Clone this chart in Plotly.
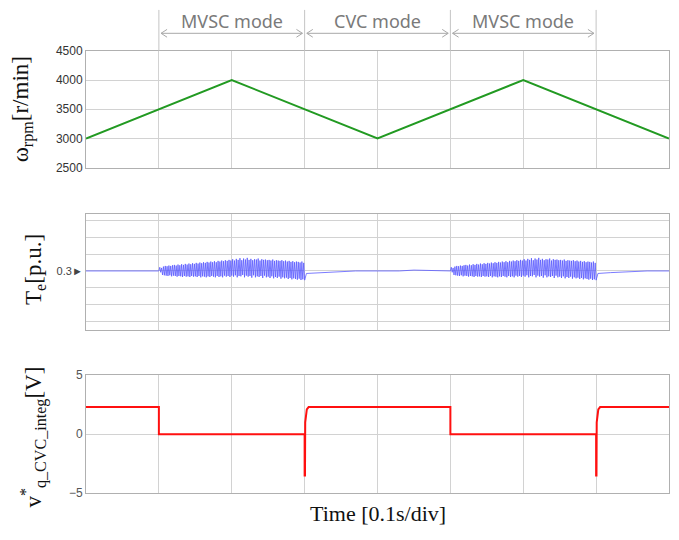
import numpy as np
import plotly.graph_objects as go

# ---------------- data ----------------
# speed (r/min)
SPEED_T = [0.0, 0.2, 0.4, 0.6, 0.8]
SPEED_V = [3000, 4000, 3000, 4000, 3000]

# torque (p.u.) - MVSC window oscillation samples
TE_MVSC = [
    0.300, 0.322, 0.292, 0.318, 0.276, 0.326, 0.274, 0.330, 0.272, 0.328, 0.270, 0.332, 0.274, 0.330, 0.268, 0.334, 0.272, 0.336, 0.270, 0.332,
    0.266, 0.338, 0.270, 0.334, 0.268, 0.340, 0.264, 0.336, 0.270, 0.342, 0.266, 0.338, 0.268, 0.344, 0.264, 0.340, 0.270, 0.346, 0.266, 0.342,
    0.268, 0.348, 0.264, 0.344, 0.270, 0.350, 0.262, 0.346, 0.268, 0.352, 0.266, 0.348, 0.262, 0.354, 0.268, 0.350, 0.264, 0.356, 0.270, 0.352,
    0.266, 0.358, 0.262, 0.352, 0.270, 0.360, 0.264, 0.356, 0.268, 0.362, 0.262, 0.358, 0.272, 0.364, 0.266, 0.360, 0.270, 0.366, 0.264, 0.362,
    0.272, 0.370, 0.266, 0.362, 0.274, 0.372, 0.262, 0.366, 0.270, 0.376, 0.268, 0.364, 0.276, 0.374, 0.262, 0.368, 0.272, 0.378, 0.266, 0.366,
    0.270, 0.372, 0.260, 0.364, 0.274, 0.370, 0.262, 0.368, 0.268, 0.374, 0.264, 0.362, 0.270, 0.370, 0.258, 0.366, 0.272, 0.368, 0.262, 0.364,
    0.266, 0.366, 0.258, 0.362, 0.268, 0.368, 0.256, 0.360, 0.264, 0.364, 0.258, 0.362, 0.266, 0.360, 0.254, 0.364, 0.262, 0.358, 0.256, 0.362,
    0.260, 0.356, 0.252, 0.360, 0.258, 0.354, 0.250, 0.358, 0.256, 0.352, 0.252, 0.356, 0.248, 0.354, 0.254, 0.350, 0.246, 0.356, 0.250, 0.348,
    0.245,
]
# recovery after an MVSC window: offsets (s) from window end, values (p.u.)
TE_AFTER_DT = [0.0025, 0.02, 0.04, 0.07, 0.13, 0.145, 0.15]
TE_AFTER_V = [0.285, 0.290, 0.295, 0.300, 0.300, 0.302, 0.305]
MVSC_STARTS = [0.1, 0.5]
MVSC_LEN = 0.2
TE_BASE = 0.3

# v*q_CVC_integ (V)
VQ_T = [0.0, 0.1, 0.1, 0.3, 0.3, 0.3005, 0.3008, 0.3015, 0.303, 0.3055,
        0.5, 0.5, 0.7, 0.7, 0.7005, 0.7008, 0.7015, 0.703, 0.7055, 0.8]
VQ_V = [2.3, 2.3, 0.0, 0.0, -3.5, -3.5, 1.0, 1.6, 2.1, 2.3,
        2.3, 0.0, 0.0, -3.5, -3.5, 1.0, 1.6, 2.1, 2.3, 2.3]

MODES = [("MVSC mode", 0.1, 0.3), ("CVC mode", 0.3, 0.5), ("MVSC mode", 0.5, 0.7)]

TOP_TICKS = [2500, 3000, 3500, 4000, 4500]
TE_TICKS = [0.0, 0.1, 0.2, 0.3, 0.4, 0.5, 0.6]
TE_TEXT = ["", "", "", "0.3\u25ba", "", "", ""]
VQ_TICKS = [-5, 0, 5]

# ---------------- build torque series ----------------
te_t, te_v = [0.0, 0.1], [TE_BASE, TE_BASE]
for s in MVSC_STARTS:
    ts = np.linspace(s, s + MVSC_LEN, len(TE_MVSC))
    te_t += list(ts)
    te_v += TE_MVSC
    for dt, vv in zip(TE_AFTER_DT, TE_AFTER_V):
        t_abs = s + MVSC_LEN + dt
        if t_abs <= 0.8:
            te_t.append(t_abs)
            te_v.append(vv)
te_t.append(0.8)
te_v.append(TE_BASE)

W, H = 679, 540


def px(X):
    return X / W


def py(Y):
    return 1 - Y / H


xdom = [px(86), px(669)]


def ydom(top, bot):
    return [py(bot), py(top)]


fig = go.Figure()
fig.add_trace(go.Scatter(x=SPEED_T, y=SPEED_V, mode="lines",
                         line=dict(color="#229a22", width=2), xaxis="x", yaxis="y"))
fig.add_trace(go.Scatter(x=te_t, y=te_v, mode="lines",
                         line=dict(color="rgba(90,90,255,0.8)", width=1), xaxis="x2", yaxis="y2"))
fig.add_trace(go.Scatter(x=VQ_T, y=VQ_V, mode="lines",
                         line=dict(color="#ff1010", width=2), xaxis="x3", yaxis="y3"))

grid = "#d2d2d2"
frame = "#b0b0b0"
xcommon = dict(range=[0, 0.8], dtick=0.1, tick0=0, showticklabels=False, showgrid=True,
               gridcolor=grid, zeroline=False, showline=True, linecolor=frame, mirror=True,
               ticks="")
fig.update_layout(
    width=W, height=H, margin=dict(l=0, r=0, t=0, b=0),
    paper_bgcolor="white", plot_bgcolor="white", showlegend=False,
    xaxis=dict(domain=xdom, anchor="y", **xcommon),
    xaxis2=dict(domain=xdom, anchor="y2", **xcommon),
    xaxis3=dict(domain=xdom, anchor="y3", **xcommon),
    yaxis=dict(domain=ydom(45, 165), anchor="x", range=[2500, 4500], tickvals=TOP_TICKS,
               showgrid=True, gridcolor=grid, zeroline=False, showline=True, linecolor=frame,
               mirror=True, tickfont=dict(family="Arial", size=12, color="#333")),
    yaxis2=dict(domain=ydom(212, 332), anchor="x2", range=[-0.055, 0.643], tickvals=TE_TICKS,
                ticktext=TE_TEXT, showgrid=True, gridcolor=grid, zeroline=False, showline=True,
                linecolor=frame, mirror=True, tickfont=dict(family="Arial", size=11, color="#444")),
    yaxis3=dict(domain=ydom(378, 499), anchor="x3", range=[-5, 5], tickvals=VQ_TICKS,
                showgrid=True, gridcolor=grid, zeroline=False, showline=True, linecolor=frame,
                mirror=True, tickfont=dict(family="Arial", size=12, color="#555")),
)

serif = "Liberation Serif, Times New Roman, serif"
ann = []


def add_text(text, X, Y, size, angle=0, family=serif, color="#111", xref="paper", x=None):
    ann.append(dict(text=text, x=px(X) if x is None else x, y=py(Y), xref=xref,
                    yref="paper", xanchor="center", yanchor="middle", textangle=angle,
                    showarrow=False, font=dict(family=family, size=size, color=color)))


add_text("\u03c9<sub>rpm</sub>[r/min]", 22, 105, 23, angle=-90)
add_text("T<sub>e</sub>[p.u.]", 35, 270, 23, angle=-90)
add_text("v<sup>*</sup><sub>q_CVC_integ</sub>[V]", 33, 442, 23, angle=-90)
add_text("Time [0.1s/div]", 378, 520, 22)

shapes = []
yarr = py(27)
dx = 6 / 583 * 0.8
dy = 4 / H
bounds = sorted(set([b for _, a, c in MODES for b in (a, c)]))
for b in bounds:
    shapes.append(dict(type="line", xref="x", yref="paper", x0=b, x1=b, y0=py(45), y1=py(3),
                       line=dict(color="#c4c4c4", width=1)))
for name, a, c in MODES:
    add_text(name, 0, 14, 18, family="Noto Sans", color="#7a7a7a", xref="x", x=(a + c) / 2)
    a2, c2 = a + 0.003, c - 0.003
    shapes.append(dict(type="line", xref="x", yref="paper", x0=a2, x1=c2, y0=yarr, y1=yarr,
                       line=dict(color="#a8a8a8", width=1)))
    shapes.append(dict(type="path", xref="x", yref="paper",
                       path=f"M {a2+dx},{yarr+dy} L {a2},{yarr} L {a2+dx},{yarr-dy}",
                       line=dict(color="#a8a8a8", width=1)))
    shapes.append(dict(type="path", xref="x", yref="paper",
                       path=f"M {c2-dx},{yarr+dy} L {c2},{yarr} L {c2-dx},{yarr-dy}",
                       line=dict(color="#a8a8a8", width=1)))

fig.update_layout(annotations=ann, shapes=shapes)
fig.write_html("out.html")
